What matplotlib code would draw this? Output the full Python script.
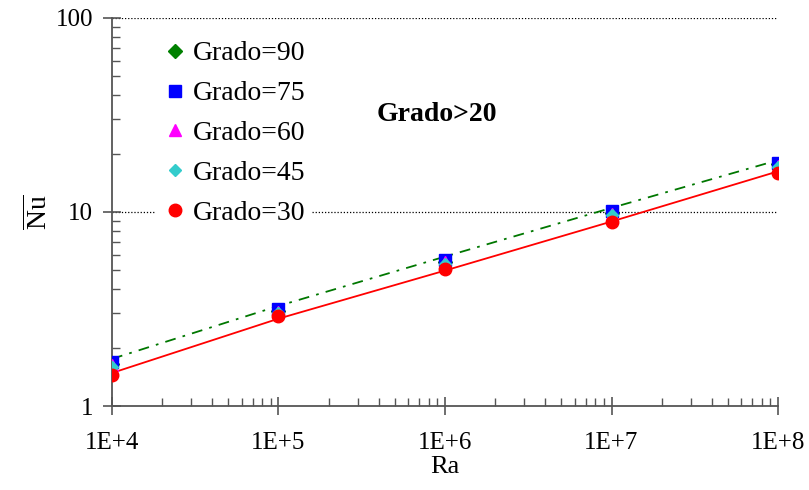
import matplotlib
matplotlib.use("Agg")
import matplotlib.pyplot as plt
from matplotlib.ticker import LogLocator, FixedLocator, NullFormatter

plt.rcParams['font.family'] = ['Liberation Serif', 'DejaVu Serif']
plt.rcParams['mathtext.fontset'] = 'custom'
plt.rcParams['mathtext.rm'] = 'Liberation Serif'

ra = [1e4, 1e5, 1e6, 1e7, 1e8]
x_labels = ['1E+4', '1E+5', '1E+6', '1E+7', '1E+8']
y_ticks = [1, 10, 100]
y_labels = ['1', '10', '100']

nu_90 = [1.65, 3.10, 5.55, 9.90, 17.6]
nu_75 = [1.68, 3.15, 5.65, 10.1, 17.9]
nu_60 = [1.62, 3.05, 5.50, 9.80, 17.3]
nu_45 = [1.58, 3.00, 5.40, 9.60, 17.0]
nu_30 = [1.45, 2.92, 5.10, 8.90, 15.9]

fit_high = [1.75, 3.28, 5.89, 10.5, 18.5]
fit_low = [1.48, 2.82, 4.99, 8.93, 16.2]

fig = plt.figure(figsize=(8.09, 4.90), dpi=100)
ax = fig.add_axes([0.1384, 0.1714, 0.8233, 0.7919])
ax.set_xscale('log')
ax.set_yscale('log')
ax.set_xlim(1e4, 1e8)
ax.set_ylim(1, 100)

ax.plot(ra, fit_high, color='#007700', lw=1.3, ls=(0, (6, 4, 1.5, 4)), zorder=3)
ax.plot(ra, fit_low, color='#ff0000', lw=1.3, ls='-', zorder=3)

ax.plot(ra, nu_90, ls='none', marker='D', ms=7, color='#008000', label='Grado=90', zorder=4)
ax.plot(ra, nu_75, ls='none', marker='s', ms=9, color='#0000ff', label='Grado=75', zorder=4)
ax.plot(ra, nu_60, ls='none', marker='^', ms=8, color='#ff00ff', label='Grado=60', zorder=4)
ax.plot(ra, nu_45, ls='none', marker='D', ms=6, color='#33cccc', label='Grado=45', zorder=4)
ax.plot(ra, nu_30, ls='none', marker='o', ms=9, color='#ff0000', label='Grado=30', zorder=5)

for yv in [10, 100]:
    ax.axhline(yv, color='black', lw=0.9, ls=(0, (1, 1.5)), zorder=1)

for s in ['top', 'right']:
    ax.spines[s].set_visible(False)
for s in ['left', 'bottom']:
    ax.spines[s].set_color('#555555')
    ax.spines[s].set_linewidth(1.3)

ax.xaxis.set_major_locator(FixedLocator(ra))
ax.set_xticklabels(x_labels)
ax.yaxis.set_major_locator(FixedLocator(y_ticks))
ax.set_yticklabels(y_labels)
ax.xaxis.set_minor_locator(LogLocator(base=10, subs=range(2, 10)))
ax.yaxis.set_minor_locator(LogLocator(base=10, subs=range(2, 10)))
ax.xaxis.set_minor_formatter(NullFormatter())
ax.yaxis.set_minor_formatter(NullFormatter())
ax.tick_params(which='major', direction='inout', length=13, width=1.2, color='#555555', labelsize=18)
ax.tick_params(axis='x', which='major', pad=12)
ax.tick_params(axis='y', which='major', pad=7)
ax.tick_params(which='minor', direction='in', length=5.5, width=1.0, color='#555555')

ax.set_xlabel('Ra', fontsize=19, labelpad=2)
ax.set_ylabel(r'$\overline{\mathrm{Nu}}$', fontsize=20, labelpad=2)

leg = ax.legend(loc='upper left', bbox_to_anchor=(0.065, 0.955), frameon=True, fontsize=20,
                handletextpad=0.15, labelspacing=0.52, handlelength=1.0, borderaxespad=0,
                borderpad=0.2)
leg.get_frame().set_edgecolor('none')
leg.get_frame().set_facecolor('white')
leg.get_frame().set_alpha(1)
leg.set_zorder(6)

ax.text(0.488, 0.75, 'Grado>20', transform=ax.transAxes, fontsize=20, fontweight='bold',
        ha='center', va='center')

fig.savefig('out.png', dpi=100)
